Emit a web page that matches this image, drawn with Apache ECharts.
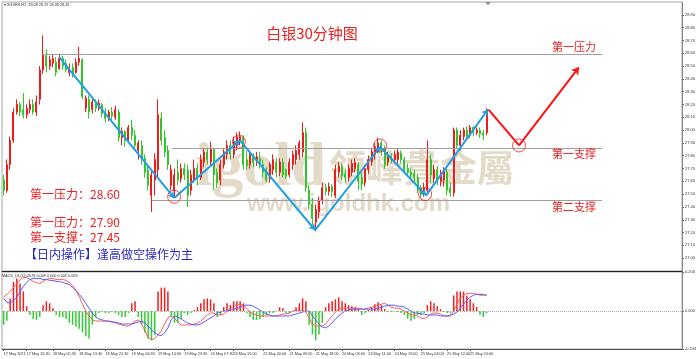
<!DOCTYPE html>
<html><head><meta charset="utf-8">
<script src="https://cdn.jsdelivr.net/npm/echarts@6/dist/echarts.min.js"></script>
<style>html,body{margin:0;padding:0;background:#fff}#c{width:700px;height:359px}</style>
</head><body><div id="c"></div>
<script>
// ---- candle data (30-minute bars) ----
const opens = [27.61,27.53,27.73,27.92,28.14,28.20,28.16,28.12,28.16,28.20,28.14,28.24,28.47,28.58,28.50,28.52,28.53,28.48,28.56,28.52,
28.45,28.49,28.45,28.53,28.55,28.17,28.24,28.16,28.22,28.17,28.20,28.14,28.09,28.14,28.10,28.14,27.94,27.99,27.92,28.02,
27.96,27.84,27.88,27.78,27.69,27.49,27.61,27.69,28.09,27.94,27.84,27.57,27.53,27.67,27.62,27.70,27.69,27.53,27.62,27.70,
27.63,27.75,27.83,27.75,27.85,27.67,27.61,27.73,27.81,27.88,27.81,27.88,27.92,27.94,27.77,27.73,27.79,27.75,27.78,27.73,
27.69,27.62,27.69,27.75,27.67,27.75,27.69,27.65,27.73,27.77,27.81,27.83,27.98,27.53,27.42,27.28,27.36,27.45,27.55,27.52,
27.56,27.49,27.67,27.72,27.66,27.63,27.67,27.70,27.73,27.63,27.59,27.69,27.75,27.81,27.84,27.90,27.86,27.75,27.80,27.77,
27.77,27.82,27.77,27.70,27.67,27.66,27.63,27.55,27.50,27.53,27.77,27.62,27.69,27.60,27.61,27.67,27.55,27.51,28.00,27.88,
27.95,28.00,27.96,28.02,27.98,28.00,27.98,27.98];
const closes = [27.53,27.73,27.92,28.14,28.20,28.14,28.12,28.17,28.20,28.14,28.22,28.47,28.59,28.50,28.55,28.56,28.45,28.56,28.50,28.47,
28.49,28.43,28.53,28.56,28.26,28.25,28.14,28.22,28.17,28.21,28.13,28.09,28.14,28.11,28.16,27.94,27.99,27.92,28.02,27.96,
27.88,27.90,27.77,27.67,27.57,27.65,27.77,28.12,27.92,27.83,27.73,27.69,27.65,27.61,27.70,27.65,27.49,27.65,27.70,27.62,
27.77,27.83,27.77,27.86,27.65,27.59,27.73,27.83,27.88,27.81,27.91,27.95,27.95,27.73,27.72,27.81,27.75,27.79,27.73,27.67,
27.61,27.73,27.77,27.67,27.75,27.65,27.64,27.75,27.81,27.84,27.90,27.98,27.55,27.42,27.31,27.38,27.45,27.55,27.52,27.56,
27.52,27.69,27.72,27.64,27.63,27.70,27.74,27.75,27.60,27.58,27.70,27.77,27.83,27.87,27.90,27.84,27.73,27.80,27.77,27.81,
27.83,27.77,27.69,27.67,27.65,27.63,27.53,27.50,27.55,27.77,27.65,27.69,27.61,27.65,27.69,27.53,27.51,28.00,27.88,27.96,
28.00,27.95,28.02,27.98,28.00,27.97,27.96,28.16];
const lows = [27.49,27.51,27.69,27.90,28.12,28.11,28.09,28.09,28.13,28.12,28.11,28.20,28.44,28.45,28.47,28.49,28.42,28.47,28.47,28.45,
28.42,28.41,28.44,28.50,28.24,28.14,28.09,28.13,28.14,28.15,28.10,28.06,28.07,28.08,28.08,27.91,27.88,27.87,27.90,27.92,
27.84,27.77,27.73,27.63,27.53,27.36,27.49,27.63,27.88,27.79,27.69,27.53,27.47,27.57,27.59,27.61,27.40,27.49,27.59,27.57,
27.61,27.71,27.73,27.72,27.53,27.55,27.57,27.70,27.77,27.77,27.78,27.84,27.88,27.69,27.69,27.70,27.71,27.72,27.70,27.63,
27.59,27.59,27.65,27.63,27.64,27.63,27.62,27.63,27.69,27.73,27.77,27.79,27.52,27.38,27.26,27.21,27.31,27.42,27.49,27.49,
27.48,27.47,27.63,27.61,27.59,27.60,27.64,27.67,27.53,27.53,27.56,27.66,27.72,27.77,27.82,27.80,27.70,27.72,27.74,27.74,
27.74,27.74,27.66,27.64,27.61,27.59,27.51,27.47,27.48,27.50,27.59,27.59,27.57,27.56,27.56,27.49,27.48,27.48,27.86,27.84,
27.92,27.92,27.94,27.95,27.96,27.94,27.92,27.96];
const highs = [27.65,27.77,27.95,28.17,28.24,28.22,28.29,28.20,28.24,28.24,28.27,28.50,28.74,28.63,28.58,28.59,28.57,28.59,28.58,28.55,
28.52,28.52,28.56,28.65,28.56,28.27,28.27,28.24,28.24,28.24,28.21,28.17,28.16,28.18,28.19,28.16,28.02,28.00,28.04,28.08,
28.00,27.92,27.92,27.81,27.73,27.69,27.82,28.24,28.14,28.00,27.88,27.73,27.70,27.77,27.74,27.74,27.73,27.69,27.77,27.74,
27.81,27.86,27.86,27.91,27.86,27.70,27.77,27.86,27.92,27.92,27.95,27.98,27.99,27.96,27.84,27.84,27.82,27.83,27.83,27.77,
27.71,27.75,27.81,27.78,27.78,27.78,27.70,27.78,27.84,27.88,27.92,28.06,28.02,27.57,27.47,27.42,27.48,27.59,27.58,27.59,
27.58,27.73,27.75,27.74,27.69,27.73,27.77,27.78,27.75,27.67,27.73,27.80,27.86,27.90,27.94,27.92,27.88,27.83,27.82,27.84,
27.86,27.84,27.79,27.74,27.70,27.69,27.65,27.57,27.59,27.92,27.81,27.73,27.72,27.69,27.71,27.70,27.59,28.02,28.02,28.00,
28.02,28.03,28.04,28.03,28.02,28.02,28.00,28.17];

// ---- MACD pane ----
const macdHist = [-0.07,-0.05,0.065,0.15,0.167,0.14,0.10,0.025,-0.02,-0.04,-0.045,-0.03,0.03,0.05,0.04,0.015,-0.02,-0.03,-0.03,-0.04,
-0.06,-0.07,-0.08,-0.09,-0.11,-0.13,-0.14,-0.07,-0.03,-0.01,-0.005,-0.01,-0.01,-0.005,-0.01,-0.02,-0.03,-0.03,-0.01,0.04,
0.05,-0.03,-0.07,-0.11,-0.14,-0.15,-0.12,0.10,0.12,0.12,0.10,-0.03,-0.06,-0.06,-0.04,-0.01,-0.02,-0.01,0.005,0.02,
0.04,0.06,0.065,0.06,0.04,-0.03,-0.02,0.02,0.04,0.03,0.05,0.05,0.05,0.04,-0.01,-0.03,-0.045,-0.045,-0.04,-0.03,
-0.02,-0.01,-0.01,-0.005,0.02,0.015,-0.01,-0.01,-0.005,0.02,0.04,0.065,0.05,-0.07,-0.12,-0.15,-0.12,-0.06,0.02,0.04,
0.05,0.06,0.07,0.05,0.04,0.03,0.025,0.02,0.01,-0.02,-0.01,0.005,0.02,0.035,0.045,0.03,0.01,-0.005,-0.005,-0.005,
-0.005,-0.01,-0.02,-0.04,-0.05,-0.04,-0.02,-0.02,-0.01,0.03,0.05,0.04,0.025,0.01,-0.005,-0.01,-0.01,0.08,0.10,0.10,
0.10,0.08,0.06,0.04,0.02,-0.02,-0.03,-0.01];
const macdMain = [0.071,0.086,0.101,0.121,0.141,0.162,0.172,0.172,0.162,0.152,0.146,0.141,0.152,0.162,0.167,0.167,0.162,0.162,0.162,0.157,
0.146,0.131,0.106,0.076,0.035,0,-0.025,-0.045,-0.051,-0.051,-0.051,-0.051,-0.051,-0.056,-0.061,-0.066,-0.071,-0.076,-0.076,-0.066,
-0.051,-0.045,-0.066,-0.101,-0.136,-0.146,-0.141,-0.121,-0.101,-0.066,-0.035,-0.025,-0.035,-0.056,-0.071,-0.071,-0.071,-0.071,-0.066,-0.061,
-0.051,-0.035,-0.020,-0.010,-0.010,-0.020,-0.020,-0.015,0,0.015,0.025,0.030,0.035,0.030,0.015,-0.005,-0.015,-0.020,-0.025,-0.025,
-0.025,-0.025,-0.025,-0.025,-0.020,-0.015,-0.015,-0.010,0,0.005,0.005,0.005,-0.005,-0.035,-0.066,-0.076,-0.076,-0.076,-0.066,-0.045,
-0.025,-0.005,0.010,0.015,0.015,0.015,0.015,0.015,0.015,0.010,0.010,0.015,0.020,0.025,0.030,0.035,0.040,0.030,0.020,0.015,
0.015,0.010,0,-0.010,-0.020,-0.020,-0.025,-0.035,-0.040,-0.030,-0.015,-0.010,-0.010,-0.015,-0.025,-0.025,-0.025,0,0.035,0.066,
0.081,0.091,0.091,0.091,0.086,0.081,0.081,0.081];
const macdSignal = [0.066,0.045,0.040,0.056,0.071,0.101,0.126,0.146,0.162,0.167,0.167,0.167,0.162,0.162,0.157,0.157,0.152,0.152,0.146,0.141,
0.136,0.121,0.106,0.086,0.066,0.040,0.015,-0.010,-0.030,-0.040,-0.045,-0.051,-0.051,-0.056,-0.056,-0.061,-0.066,-0.066,-0.066,-0.066,
-0.061,-0.056,-0.051,-0.061,-0.076,-0.096,-0.111,-0.121,-0.126,-0.111,-0.086,-0.045,-0.025,-0.030,-0.040,-0.051,-0.061,-0.066,-0.071,-0.071,
-0.066,-0.056,-0.045,-0.035,-0.025,-0.010,-0.005,0,0,0.005,0.010,0.015,0.020,0.030,0.030,0.030,0.025,0.015,0.005,-0.005,
-0.015,-0.020,-0.025,-0.025,-0.025,-0.025,-0.025,-0.025,-0.020,-0.015,-0.010,-0.005,0,0,-0.025,-0.045,-0.066,-0.081,-0.086,-0.076,
-0.061,-0.040,-0.025,-0.010,0,0.005,0.010,0.010,0.010,0.010,0.010,0.010,0.010,0.010,0.015,0.020,0.025,0.030,0.030,0.030,
0.025,0.025,0.020,0.010,0,-0.010,-0.010,-0.015,-0.015,-0.020,-0.020,-0.020,-0.020,-0.025,-0.025,-0.025,-0.020,-0.015,-0.005,0.015,
0.035,0.056,0.071,0.081,0.086,0.086,0.086,0.081];

// ---- axes ----
const slotCount = 207;
const timeTickIndex = [0,7,15,23,31,39,47,55,63,70,79,87,95,103,111,119,127,135,142];
const timeTickText = ['17 May 2021','17 May 20:30','18 May 05:30','18 May 13:30','18 May 21:30','19 May 06:30','19 May 14:30',
'19 May 23:30','20 May 07:30','20 May 15:00','21 May 00:00','21 May 09:00','21 May 18:00','24 May 03:00','24 May 11:00',
'24 May 19:00','25 May 04:00','25 May 12:00','25 May 20:00'];
const priceTicks = [27.0,27.1,27.2,27.3,27.4,27.5,27.6,27.7,27.8,27.9,28.0,28.1,28.2,28.3,28.4,28.5,28.6,28.7,28.8,28.9];
const macdTicks = [-0.194, 0, 0.2];

// ---- annotations: [bar index, price] ----
const zigzagBlue = [[16.9,28.57],[51.9,27.47],[71.9,27.92],[94.8,27.22],[114.6,27.87],[128.6,27.49],[147.4,28.16]];
const zigzagRed = [[147.6,28.16],[156.9,27.88],[175.1,28.49]];
const turnCircles = [[51.9,27.48],[71.6,27.91],[114.6,27.88],[128.3,27.50],[156.9,27.88]];
const levelLines = [[28.59,11.7,182.2],[27.86,51.3,182.2],[27.45,45.2,182.2]];
const levelNames = ['第一压力','第一支撑','第二支撑'];
const noteLines = ['第一压力：28.60','第一压力：27.90','第一支撑：27.45'];
const noteAction = '【日内操作】逢高做空操作为主';

const cats = [];
for (let i = 0; i < slotCount; i++) cats.push('s' + i);
const tickMap = {};
timeTickIndex.forEach((k, j) => { tickMap[k] = timeTickText[j]; });
const showTick = (idx) => tickMap[idx] !== undefined;

const candleData = opens.map((o, i) => [o, closes[i], lows[i], highs[i]]);
function segs(pts) {
  const out = [];
  for (let i = 0; i < pts.length - 1; i++) out.push({ coords: [pts[i], pts[i + 1]] });
  return out;
}
const redSegs = segs(zigzagRed);
redSegs[0].symbol = ['none', 'none'];

const CJK = '"Noto Sans CJK SC", sans-serif';
const RED = '#ee2020';
const WM = '#e3dac8';
const chart = echarts.init(document.getElementById('c'), null, { renderer: 'canvas' });

const graphics = [
  { type: 'text', left: 4, top: 3, z: 50, style: { text: '▾ SILVER,H1  28.08 28.29 28.08 28.26', font: '3.8px "Liberation Sans"', fill: '#333' } },
  { type: 'text', left: 2, top: 274, z: 50, style: { text: 'MACD_DL(12,26,9) 0.009 0.000 0.009 0.008', font: '3.8px "Liberation Sans"', fill: '#333' } },
  { type: 'text', x: 312, y: 33, z: 50, style: { text: '白银30分钟图', font: '15px ' + CJK, fill: RED, align: 'center', verticalAlign: 'middle' } },
  { type: 'polygon', z: 50, shape: { points: [[485, 2], [491, 2], [488, 5]] }, style: { fill: '#888' } },
  // watermark
  { type: 'text', x: 195, y: 169, z: -5, style: { text: 'igold', font: 'bold 62px "Liberation Serif"', fill: WM, verticalAlign: 'middle' } },
  { type: 'text', x: 329, y: 168, z: -5, style: { text: '領峰貴金屬', font: 'bold 37px "Noto Sans CJK TC"', fill: WM, verticalAlign: 'middle' } },
  { type: 'text', x: 247, y: 204, z: -5, style: { text: 'www.igoldhk.com', font: 'bold 24px "Liberation Sans"', fill: WM, verticalAlign: 'middle' } }
];
const levelLabelY = [47, 154, 207];
levelNames.forEach((t, j) => graphics.push({ type: 'text', x: 552, y: levelLabelY[j], z: 50,
  style: { text: t, font: '11px ' + CJK, fill: RED, verticalAlign: 'middle' } }));
const noteY = [194, 222, 237];
noteLines.forEach((t, j) => graphics.push({ type: 'text', x: 30, y: noteY[j], z: 50,
  style: { text: t, font: '12px ' + CJK, fill: RED, verticalAlign: 'middle' } }));
graphics.push({ type: 'text', x: 25, y: 254, z: 50, style: { text: noteAction, font: '12px ' + CJK, fill: '#2a2ac8', verticalAlign: 'middle' } });

chart.setOption({
  animation: false,
  backgroundColor: '#ffffff',
  grid: [
    { left: 2, right: 18, top: 2, height: 269, show: true, borderColor: '#a8a8a8', borderWidth: 1 },
    { left: 2, right: 18, top: 272, height: 77, show: true, borderColor: '#a8a8a8', borderWidth: 1 }
  ],
  xAxis: [
    { type: 'category', gridIndex: 0, data: cats, boundaryGap: true,
      axisLine: { onZero: false, lineStyle: { color: '#222', width: 1 } }, axisTick: { show: false }, axisLabel: { show: false }, splitLine: { show: false } },
    { type: 'category', gridIndex: 1, data: cats, boundaryGap: true,
      axisLine: { onZero: false, lineStyle: { color: '#555', width: 1 } },
      axisTick: { show: true, alignWithLabel: true, interval: showTick, length: 2, lineStyle: { color: '#555' } },
      axisLabel: { show: true, interval: showTick, formatter: (v, idx) => tickMap[idx] || '', align: 'left',
        fontSize: 3.8, fontFamily: 'Liberation Sans', color: '#333', margin: 3 },
      splitLine: { show: false } },
    { type: 'value', gridIndex: 0, min: -0.5, max: slotCount - 0.5, show: false }
  ],
  yAxis: [
    { type: 'value', gridIndex: 0, position: 'right', min: 26.9, max: 29.0, scale: true,
      axisLine: { show: true, onZero: false, lineStyle: { color: '#888' } },
      axisTick: { show: true, customValues: priceTicks, length: 2, lineStyle: { color: '#666' } },
      axisLabel: { customValues: priceTicks, formatter: v => v.toFixed(2), fontSize: 4, fontFamily: 'Liberation Sans', color: '#333', margin: 3 },
      splitLine: { show: false } },
    { type: 'value', gridIndex: 1, position: 'right', min: -0.194, max: 0.2,
      axisLine: { show: true, onZero: false, lineStyle: { color: '#888' } },
      axisTick: { show: true, customValues: macdTicks, length: 2, lineStyle: { color: '#666' } },
      axisLabel: { customValues: macdTicks, formatter: v => v.toFixed(3), fontSize: 4, fontFamily: 'Liberation Sans', color: '#333', margin: 3 },
      splitLine: { show: false } }
  ],
  graphic: graphics,
  series: [
    { type: 'candlestick', xAxisIndex: 0, yAxisIndex: 0, data: candleData, barWidth: 1.5, z: 3,
      itemStyle: { color: '#f01a1a', color0: '#2ec82e', borderColor: '#f01a1a', borderColor0: '#2ec82e', borderWidth: 1 } },
    { type: 'lines', coordinateSystem: 'cartesian2d', xAxisIndex: 2, yAxisIndex: 0, z: 4, silent: true,
      symbol: ['none', 'none'],
      data: levelLines.map(l => ({ coords: [[l[1], l[0]], [l[2], l[0]]] })),
      lineStyle: { color: '#a0a0a0', width: 1, opacity: 1 } },
    { type: 'lines', coordinateSystem: 'cartesian2d', xAxisIndex: 2, yAxisIndex: 0, z: 6, silent: true,
      symbol: ['none', 'arrow'], symbolSize: 6,
      data: segs(zigzagBlue), lineStyle: { color: '#1e9fe6', width: 2, opacity: 1 } },
    { type: 'lines', coordinateSystem: 'cartesian2d', xAxisIndex: 2, yAxisIndex: 0, z: 6, silent: true,
      symbol: ['none', 'arrow'], symbolSize: 7,
      data: redSegs, lineStyle: { color: '#ff1010', width: 2, opacity: 1 } },
    { type: 'scatter', xAxisIndex: 2, yAxisIndex: 0, z: 7, silent: true, data: turnCircles, symbol: 'circle', symbolSize: 13,
      itemStyle: { color: 'rgba(0,0,0,0)', borderColor: '#e82020', borderWidth: 1 } },
    { type: 'bar', xAxisIndex: 1, yAxisIndex: 1, data: macdHist, barWidth: 1.5, z: 3,
      itemStyle: { color: p => (p.value >= 0 ? '#f02020' : '#33cc33') },
      markLine: { silent: true, symbol: ['none', 'none'], label: { show: false },
        lineStyle: { color: '#b0b0b0', type: 'dotted', width: 1 }, data: [{ yAxis: 0 }] } },
    { type: 'line', xAxisIndex: 1, yAxisIndex: 1, data: macdMain, showSymbol: false, z: 4,
      lineStyle: { color: '#ff5a5a', width: 1 } },
    { type: 'line', xAxisIndex: 1, yAxisIndex: 1, data: macdSignal, showSymbol: false, z: 4,
      lineStyle: { color: '#5a5aff', width: 1 } }
  ]
});
</script></body></html>
